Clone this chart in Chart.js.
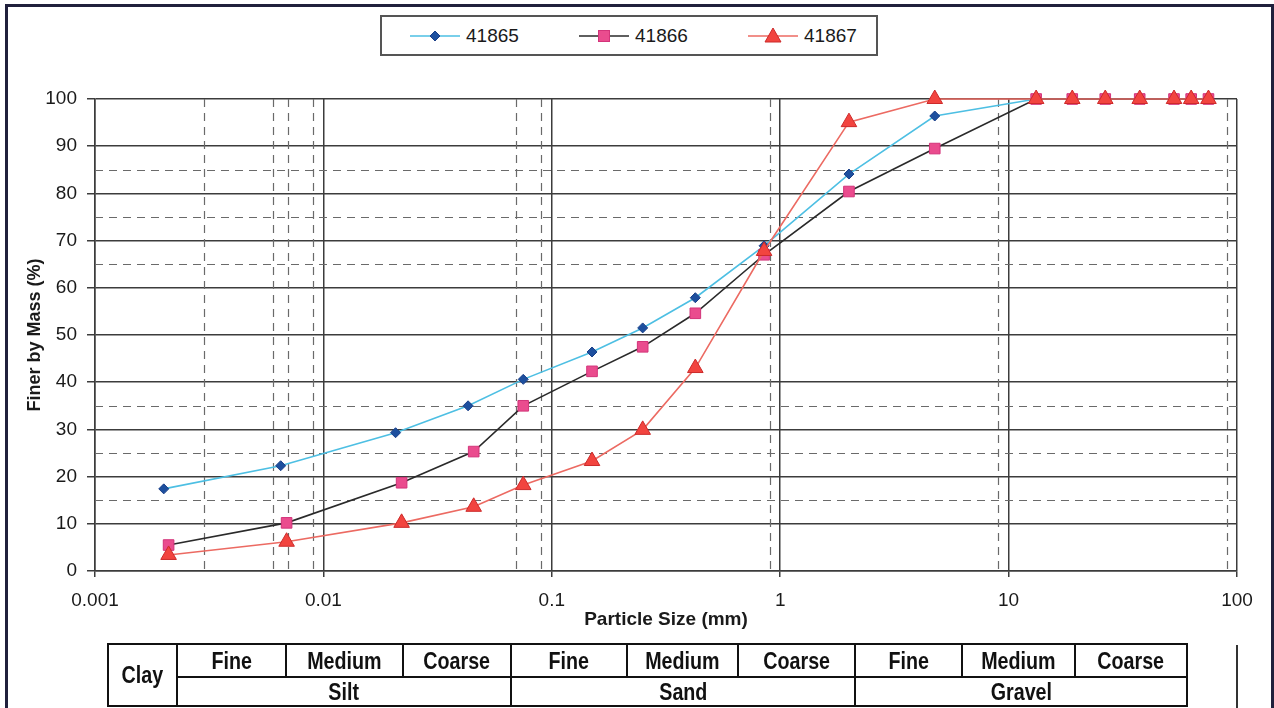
<!DOCTYPE html>
<html>
<head>
<meta charset="utf-8">
<title>Particle size distribution</title>
<script src="https://cdn.jsdelivr.net/npm/chart.js@4.4.0/dist/chart.umd.min.js"></script>
<style>
  html, body { margin: 0; padding: 0; background: #fff; }
  #wrap { position: relative; width: 1274px; height: 708px; overflow: hidden; background: #fff; }
  #canvas-grading { position: absolute; left: 0; top: 0; }
  #frame { position: absolute; left: 5px; top: 4px; width: 1263px; height: 720px;
           border: 3px solid #20203c; border-bottom: none; }
  #edge { position: absolute; left: 1236px; top: 645px; width: 2px; height: 70px; background: #333; }
  #legend { position: absolute; left: 380px; top: 15px; width: 494px; height: 37px;
            border: 2px solid #555; background: #fff;
            font: 19px 'Liberation Sans', Arial, sans-serif; color: #1a1a1a; }
  .legend-item { position: absolute; top: 0; height: 37px; display: flex; align-items: center; }
  .legend-item svg { margin-right: 6px; }
  #soil { position: absolute; left: 107px; top: 643px; border-collapse: collapse; table-layout: fixed;
          font: bold 24px 'Liberation Sans', Arial, sans-serif; color: #111; }
  #soil td { border: 2px solid #111; text-align: center; padding: 0; line-height: 1; white-space: nowrap; }
  #soil td span { display: inline-block; transform: scaleX(0.82); }
  #soil tr.top td { height: 31px; }
  #soil tr.bot td { height: 27px; }
</style>
</head>
<body>
<div id="wrap">
  <canvas id="canvas-grading" width="1274" height="708"></canvas>
  <div id="legend"></div>
  <table id="soil">
    <colgroup>
      <col style="width:69px"><col style="width:109px"><col style="width:117px"><col style="width:108px">
      <col style="width:116px"><col style="width:111px"><col style="width:117px">
      <col style="width:107px"><col style="width:113px"><col style="width:112px">
    </colgroup>
    <tr class="top">
      <td rowspan="2"><span>Clay</span></td>
      <td><span>Fine</span></td><td><span>Medium</span></td><td><span>Coarse</span></td>
      <td><span>Fine</span></td><td><span>Medium</span></td><td><span>Coarse</span></td>
      <td><span>Fine</span></td><td><span>Medium</span></td><td><span>Coarse</span></td>
    </tr>
    <tr class="bot">
      <td colspan="3"><span>Silt</span></td>
      <td colspan="3"><span>Sand</span></td>
      <td colspan="3"><span>Gravel</span></td>
    </tr>
  </table>
  <div id="edge"></div>
  <div id="frame"></div>
</div>
<script>
// sample ids
const sampleNames = ['41865', '41866', '41867'];

// hydrometer particle sizes (mm), slightly different per sample
const hydroSizes41865 = [0.002, 0.0065, 0.0207, 0.043];
const hydroSizes41866 = [0.0021, 0.0069, 0.022, 0.0455];
const hydroSizes41867 = [0.0021, 0.0069, 0.022, 0.0455];

// sieve sizes (mm), same for all samples
const sieveSizes = [0.075, 0.15, 0.25, 0.425, 0.85, 2, 4.75, 13.2, 19, 26.5, 37.5, 53, 63, 75];

// percent finer by mass (hydrometer points first, then sieves)
const passing41865 = [17.4, 22.3, 29.3, 35.0, 40.6, 46.4, 51.5, 57.9, 68.9, 84.1, 96.4, 100, 100, 100, 100, 100, 100, 100];
const passing41866 = [5.5, 10.2, 18.7, 25.3, 35.0, 42.3, 47.5, 54.6, 67.0, 80.4, 89.5, 100, 100, 100, 100, 100, 100, 100];
const passing41867 = [3.4, 6.2, 10.2, 13.6, 18.2, 23.3, 29.9, 43.0, 67.8, 95.1, 100, 100, 100, 100, 100, 100, 100, 100];

// axis ticks and the extra dashed grid lines
const xTickValues = [0.001, 0.01, 0.1, 1, 10, 100];
const dashedSizes = [0.003, 0.006, 0.007, 0.009, 0.07, 0.09, 0.9, 9, 90];
const dashedPercents = [15, 25, 35, 65, 75, 85];

const textColor = '#1a1a1a';
const gridColor = '#3c3c3c';
const fontFamily = "'Liberation Sans', Arial, sans-serif";

function toPoints(sizes, values) {
    return sizes.map((s, i) => ({ x: s, y: values[i] }));
}

const seriesStyles = [
    { line: '#4dbfe3', fill: '#1d4f9e', edge: '#1a3f88', shape: 'rectRot', radius: 5, order: 2 },
    { line: '#2a2a2a', fill: '#ea4c8e', edge: '#d3347a', shape: 'rect', radius: 7.5, order: 1 },
    { line: '#ec6a62', fill: '#f2443f', edge: '#cc2a2a', shape: 'triangle', radius: 9, order: 0 }
];

const seriesPoints = [
    toPoints(hydroSizes41865.concat(sieveSizes), passing41865),
    toPoints(hydroSizes41866.concat(sieveSizes), passing41866),
    toPoints(hydroSizes41867.concat(sieveSizes), passing41867)
];

const datasets = sampleNames.map((name, i) => {
    const st = seriesStyles[i];
    return {
        label: name,
        data: seriesPoints[i],
        showLine: true,
        tension: 0,
        borderColor: st.line,
        borderWidth: 1.6,
        pointStyle: st.shape,
        pointRadius: st.radius,
        pointBackgroundColor: st.fill,
        pointBorderColor: st.edge,
        pointBorderWidth: 1,
        clip: false,
        order: st.order
    };
});

// dashed minor grid lines, drawn through the scales
const dashedGrid = {
    id: 'dashedGrid',
    beforeDatasetsDraw(chart) {
        const { ctx, chartArea: a, scales: { x, y } } = chart;
        ctx.save();
        ctx.strokeStyle = '#6a6a6a';
        ctx.lineWidth = 1.2;
        ctx.setLineDash([8, 6]);
        dashedSizes.forEach(v => {
            const px = Math.round(x.getPixelForValue(v)) + 0.5;
            ctx.beginPath();
            ctx.moveTo(px, a.top);
            ctx.lineTo(px, a.bottom);
            ctx.stroke();
        });
        dashedPercents.forEach(v => {
            const py = Math.round(y.getPixelForValue(v)) + 0.5;
            ctx.beginPath();
            ctx.moveTo(a.left, py);
            ctx.lineTo(a.right, py);
            ctx.stroke();
        });
        ctx.restore();
    }
};

const ctx = document.getElementById('canvas-grading').getContext('2d');

new Chart(ctx, {
    type: 'scatter',
    data: { datasets: datasets },
    options: {
        responsive: false,
        animation: false,
        layout: { padding: { left: 0, top: 99, right: 37, bottom: 76 } },
        plugins: {
            legend: { display: false },
            tooltip: { enabled: false }
        },
        scales: {
            x: {
                type: 'logarithmic',
                min: 0.001,
                max: 100,
                afterBuildTicks: scale => { scale.ticks = xTickValues.map(v => ({ value: v })); },
                afterFit: scale => { scale.height = 61; },
                ticks: {
                    callback: v => String(v),
                    autoSkip: false,
                    maxRotation: 0,
                    padding: 12,
                    color: textColor,
                    font: { family: fontFamily, size: 19 }
                },
                grid: { color: gridColor, lineWidth: 1.5, tickLength: 6 },
                border: { color: gridColor, width: 1.5 },
                title: {
                    display: true,
                    text: 'Particle Size (mm)',
                    color: textColor,
                    font: { family: fontFamily, size: 19, weight: 'bold' },
                    padding: { top: 0, bottom: 1 }
                }
            },
            y: {
                min: 0,
                max: 100,
                afterFit: scale => { scale.width = 95; },
                ticks: {
                    stepSize: 10,
                    padding: 10,
                    color: textColor,
                    font: { family: fontFamily, size: 19 }
                },
                grid: { color: gridColor, lineWidth: 1.5, tickLength: 8 },
                border: { color: gridColor, width: 1.5 },
                title: {
                    display: true,
                    text: 'Finer by Mass (%)',
                    color: textColor,
                    font: { family: fontFamily, size: 18, weight: 'bold' },
                    padding: { top: 24, bottom: 0 }
                }
            }
        }
    },
    plugins: [dashedGrid]
});

// legend with line + marker, like the spreadsheet one
function markerSvg(st) {
    const line = `<line x1="0" y1="10" x2="50" y2="10" stroke="${st.line}" stroke-width="1.6"/>`;
    let mark;
    if (st.shape === 'rectRot') {
        mark = `<polygon points="25,5 30,10 25,15 20,10" fill="${st.fill}" stroke="${st.edge}"/>`;
    } else if (st.shape === 'rect') {
        mark = `<rect x="19.5" y="4.5" width="11" height="11" fill="${st.fill}" stroke="${st.edge}"/>`;
    } else {
        mark = `<polygon points="25,2 33,16 17,16" fill="${st.fill}" stroke="${st.edge}"/>`;
    }
    return `<svg width="50" height="20">${line}${mark}</svg>`;
}

const legendBox = document.getElementById('legend');
sampleNames.forEach((name, i) => {
    const item = document.createElement('div');
    item.className = 'legend-item';
    item.style.left = (28 + i * 169) + 'px';
    item.innerHTML = markerSvg(seriesStyles[i]) + '<span>' + name + '</span>';
    legendBox.appendChild(item);
});
</script>
</body>
</html>
